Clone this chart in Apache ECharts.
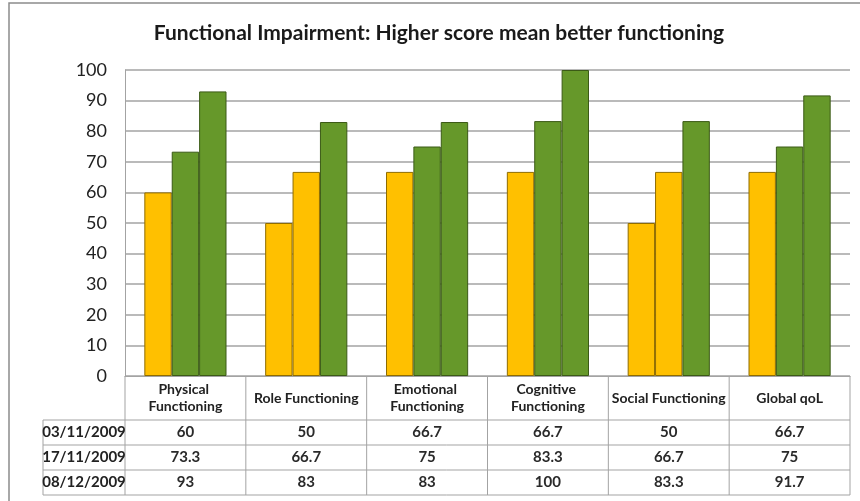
<!DOCTYPE html>
<html>
<head>
<meta charset="utf-8">
<script src="https://cdn.jsdelivr.net/npm/echarts@6/dist/echarts.min.js"></script>
<style>
  html, body { margin: 0; padding: 0; background: #ffffff; }
  #chart { width: 860px; height: 501px; }
</style>
</head>
<body>
<div id="chart"></div>
<script>
// Functional scores per assessment date
const categories = ['Physical Functioning', 'Role Functioning', 'Emotional Functioning',
                    'Cognitive Functioning', 'Social Functioning', 'Global qoL'];
const dates = ['03/11/2009', '17/11/2009', '08/12/2009'];
const scoresNov03 = [60, 50, 66.7, 66.7, 50, 66.7];
const scoresNov17 = [73.3, 66.7, 75, 83.3, 66.7, 75];
const scoresDec08 = [93, 83, 83, 100, 83.3, 91.7];
const yTickValues = [0, 10, 20, 30, 40, 50, 60, 70, 80, 90, 100];

const allScores = [scoresNov03, scoresNov17, scoresDec08];

// Scores above this level are drawn green, the rest amber
const GOOD_LEVEL = 70;
const AMBER = '#FFC000', AMBER_EDGE = '#8f6c00';
const GREEN = '#66982a', GREEN_EDGE = '#3b5a16';

const FONT = 'Lato, "Liberation Sans", sans-serif';
const LINE = '#a3a3a3';

const chart = echarts.init(document.getElementById('chart'), null, { renderer: 'canvas' });

const series = dates.map((d, si) => ({
  name: d,
  type: 'bar',
  barGap: '0%',
  barCategoryGap: '32%',
  data: allScores[si].map(v => ({
    value: v,
    itemStyle: {
      color: v > GOOD_LEVEL ? GREEN : AMBER,
      borderColor: v > GOOD_LEVEL ? GREEN_EDGE : AMBER_EDGE,
      borderWidth: 1
    }
  }))
}));

chart.setOption({
  animation: false,
  backgroundColor: '#ffffff',
  grid: { left: 125, right: 10, top: 70, bottom: 125, containLabel: false },
  xAxis: {
    type: 'category',
    data: categories,
    axisLine: { show: true, lineStyle: { color: LINE, width: 1 } },
    axisTick: { show: false },
    axisLabel: { show: false }
  },
  yAxis: {
    type: 'value',
    min: yTickValues[0],
    max: yTickValues[yTickValues.length - 1],
    interval: yTickValues[1] - yTickValues[0],
    axisLine: { show: true, lineStyle: { color: LINE, width: 1 } },
    axisTick: { show: false },
    axisLabel: { margin: 18, fontSize: 18, fontFamily: FONT, color: '#222' },
    splitLine: { lineStyle: { color: LINE, width: 1.5 } }
  },
  series: series
});

// Data table beneath the plot, aligned to the category bands
function buildTable() {
  const x0 = chart.convertToPixel({ xAxisIndex: 0 }, 0);
  const x1 = chart.convertToPixel({ xAxisIndex: 0 }, 1);
  const band = x1 - x0;
  const left = x0 - band / 2;
  const right = left + band * categories.length;
  const axisY = chart.convertToPixel({ yAxisIndex: 0 }, 0);
  const headerBottom = axisY + 44;
  const rowH = 25;
  const labelLeft = 43;
  const tableBottom = headerBottom + rowH * dates.length;

  const els = [];
  const line = (xa, ya, xb, yb) => els.push({
    type: 'line', silent: true,
    shape: { x1: xa, y1: ya, x2: xb, y2: yb },
    style: { stroke: LINE, lineWidth: 1 }
  });

  // chart frame
  els.push({
    type: 'rect', silent: true,
    shape: { x: 9, y: 3, width: 900, height: 600 },
    style: { fill: null, stroke: '#8c8c8c', lineWidth: 1.5 }
  });

  // table grid
  for (let i = 0; i <= categories.length; i++) {
    const x = left + band * i;
    line(x, axisY, x, tableBottom);
  }
  for (let r = 0; r <= dates.length; r++) {
    const y = headerBottom + rowH * r;
    line(labelLeft, y, right, y);
  }
  line(labelLeft, headerBottom, labelLeft, tableBottom);

  // category headers
  categories.forEach((c, i) => {
    els.push({
      type: 'text', silent: true,
      x: left + band * (i + 0.5), y: (axisY + headerBottom) / 2,
      style: {
        text: c, width: band - 2, overflow: 'break', lineHeight: 17,
        align: 'center', verticalAlign: 'middle',
        font: 'bold 14px ' + FONT, fill: '#222'
      }
    });
  });

  // rows: date label and values
  dates.forEach((d, r) => {
    const cy = headerBottom + rowH * (r + 0.5);
    els.push({
      type: 'text', silent: true,
      x: (labelLeft + left) / 2, y: cy,
      style: {
        text: d, align: 'center', verticalAlign: 'middle',
        font: 'bold 15px ' + FONT, fill: '#222'
      }
    });
    allScores[r].forEach((v, i) => {
      els.push({
        type: 'text', silent: true,
        x: left + band * (i + 0.5), y: cy,
        style: {
          text: String(v), align: 'center', verticalAlign: 'middle',
          font: 'bold 15px ' + FONT, fill: '#2a2a2a'
        }
      });
    });
  });

  // title
  els.push({
    type: 'text', silent: true,
    x: 439, y: 33,
    style: {
      text: 'Functional Impairment: Higher score mean better functioning',
      align: 'center', verticalAlign: 'middle',
      font: 'bold 21px ' + FONT, fill: '#1a1a1a'
    }
  });

  chart.setOption({ graphic: { elements: els } });
}

buildTable();
</script>
</body>
</html>
